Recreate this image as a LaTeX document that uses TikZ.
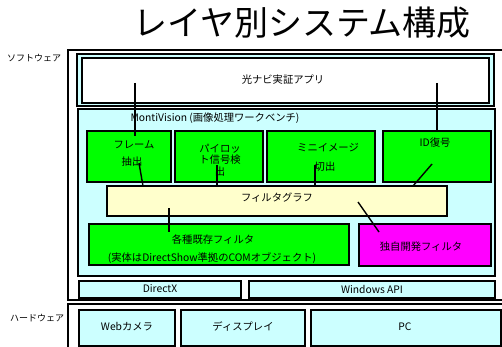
\documentclass[tikz,border=0pt]{standalone}
\usepackage{fontspec}
\setmainfont{Noto Sans CJK JP}
\definecolor{lcyan}{HTML}{CCFFFF}
\definecolor{lgreen}{HTML}{00FF00}
\definecolor{lyellow}{HTML}{FFFFCC}
\definecolor{lmag}{HTML}{FF00FF}
\begin{document}
\begin{tikzpicture}[x=1pt,y=-1pt,
  box/.style={draw, line width=1.2pt, anchor=north west, inner sep=0pt, outer sep=0pt},
  frm/.style={draw, line width=1.7pt, anchor=north west, inner sep=0pt, outer sep=0pt},
  lbl/.style={font=\fontsize{10.3}{12}\selectfont, inner sep=0pt},
  conn/.style={line width=1.4pt}]
\useasboundingbox (0,0) rectangle (502,347);
\fill[white] (0,0) rectangle (502,347);
% title
\node[font=\fontsize{34}{36}\selectfont, inner sep=0pt] (title) at (302,23) {レイヤ別システム構成};
% layer frames
\node[frm, minimum width=450, minimum height=250] (sw) at (68,50) {};
\node[frm, minimum width=450, minimum height=60] (hw) at (68,304) {};
\node[lbl, font=\fontsize{9}{10}\selectfont] (swl) at (34,58) {ソフトウェア};
\node[lbl, font=\fontsize{9}{10}\selectfont] (hwl) at (37,318) {ハードウェア};
% application
\node[box, fill=lcyan, minimum width=417, minimum height=52] (appo) at (77,54) {};
\node[box, fill=white, minimum width=407, minimum height=45] (app) at (82,58) {};
\node[lbl] (appt) at (283,80) {光ナビ実証アプリ};
% MontiVision
\node[box, fill=lcyan, minimum width=417, minimum height=167] (mv) at (78,109) {};
\node[lbl] (mvt) at (215,118) {MontiVision (画像処理ワークベンチ)};
\node[box, fill=lgreen, minimum width=84, minimum height=51] (fr) at (87,131) {};
\node[box, fill=lgreen, minimum width=88, minimum height=51] (pi) at (175,131) {};
\node[box, fill=lgreen, minimum width=108, minimum height=51] (mi) at (267,131) {};
\node[box, fill=lgreen, minimum width=108, minimum height=51] (id) at (383,131) {};
\node[box, fill=lyellow, minimum width=340, minimum height=30] (fg) at (107,186) {};
\node[box, fill=lgreen, minimum width=260, minimum height=41] (ex) at (89,224) {};
\node[box, fill=lmag, minimum width=132, minimum height=42] (own) at (359,224) {};
% system layer
\node[box, fill=lcyan, minimum width=162, minimum height=17] (dx) at (79,281) {};
\node[box, fill=lcyan, minimum width=246, minimum height=17] (wa) at (249,281) {};
% hardware
\node[box, fill=lcyan, minimum width=96, minimum height=36] (cam) at (79,310) {};
\node[box, fill=lcyan, minimum width=124, minimum height=36] (disp) at (181,310) {};
\node[box, fill=lcyan, minimum width=190, minimum height=36] (pc) at (311,310) {};
% connectors
\coordinate (a1) at (135,83);  \coordinate (b1) at (135,136);
\coordinate (a2) at (139,163); \coordinate (b2) at (143,186);
\coordinate (a3) at (217,165); \coordinate (b3) at (217,186);
\coordinate (a4) at (315,165); \coordinate (b4) at (315,186);
\coordinate (a5) at (437,83);  \coordinate (b5) at (437,132);
\coordinate (a6) at (432,164); \coordinate (b6) at (413,186);
\coordinate (a7) at (169,208); \coordinate (b7) at (169,232);
\coordinate (a8) at (358,202); \coordinate (b8) at (379,232);
\foreach \i in {1,...,8} {\draw[conn] (a\i) -- (b\i);}
% texts
\node[lbl] (frt1) at (134,145) {フレーム};
\node[lbl] (frt2) at (132,162) {抽出};
\node[lbl, align=center, font=\fontsize{10.3}{11.5}\selectfont] (pit) at (220,160) {パイロッ\\ト信号検\\出};
\node[lbl] (mit1) at (328,148) {ミニイメージ};
\node[lbl] (mit2) at (325,167) {切出};
\node[lbl] (idt) at (435,143) {ID復号};
\node[lbl] (fgt) at (277,198) {フィルタグラフ};
\node[lbl] (ext1) at (213,240) {各種既存フィルタ};
\node[lbl] (ext2) at (212,258) {(実体はDirectShow準拠のCOMオブジェクト)};
\node[lbl] (ownt) at (421,247) {独自開発フィルタ};
\node[lbl] (dxt) at (160,289) {DirectX};
\node[lbl] (wat) at (372,289) {Windows API};
\node[lbl] (camt) at (127,327) {Webカメラ};
\node[lbl] (dispt) at (243,327) {ディスプレイ};
\node[lbl] (pct) at (405,327) {PC};
\end{tikzpicture}
\end{document}
